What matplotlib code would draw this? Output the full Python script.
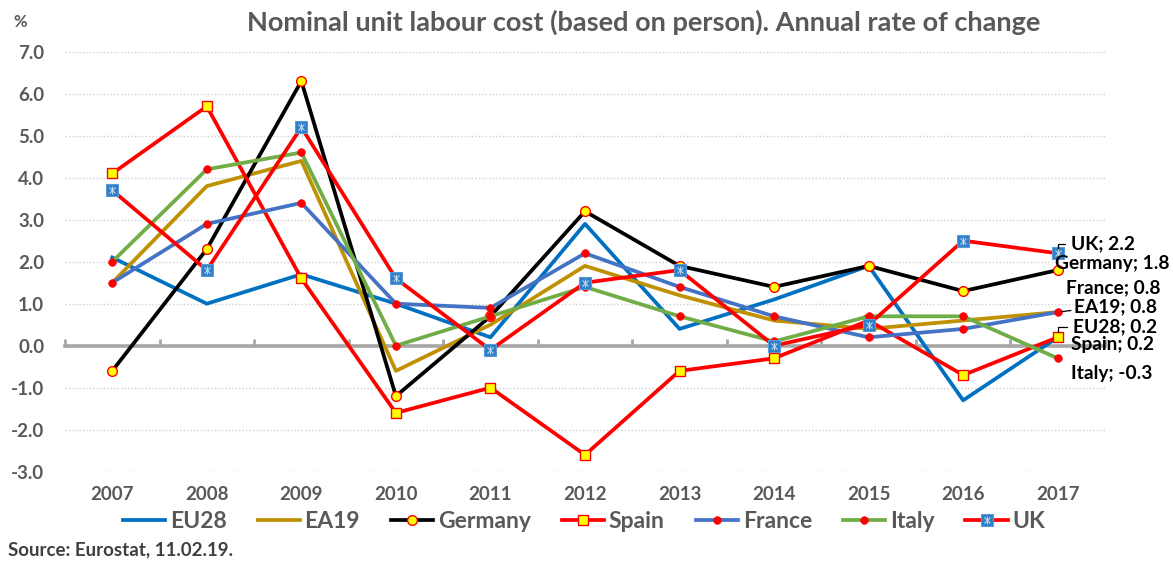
import numpy as np
import matplotlib
matplotlib.use("Agg")
import matplotlib.pyplot as plt
from matplotlib.legend_handler import HandlerTuple

plt.rcParams['font.family'] = ['Lato', 'DejaVu Sans']

years = ['2007', '2008', '2009', '2010', '2011', '2012', '2013', '2014', '2015', '2016', '2017']
eu28 = [2.1, 1.0, 1.7, 1.0, 0.2, 2.9, 0.4, 1.1, 1.9, -1.3, 0.2]
ea19 = [1.5, 3.8, 4.4, -0.6, 0.5, 1.9, 1.2, 0.6, 0.4, 0.6, 0.8]
germany = [-0.6, 2.3, 6.3, -1.2, 0.7, 3.2, 1.9, 1.4, 1.9, 1.3, 1.8]
spain = [4.1, 5.7, 1.6, -1.6, -1.0, -2.6, -0.6, -0.3, 0.6, -0.7, 0.2]
france = [1.5, 2.9, 3.4, 1.0, 0.9, 2.2, 1.4, 0.7, 0.2, 0.4, 0.8]
italy = [2.0, 4.2, 4.6, 0.0, 0.7, 1.4, 0.7, 0.1, 0.7, 0.7, -0.3]
uk = [3.7, 1.8, 5.2, 1.6, -0.1, 1.5, 1.8, 0.0, 0.5, 2.5, 2.2]

title = "Nominal unit labour cost (based on person). Annual rate of change"
source = "Source: Eurostat, 11.02.19."

W, H = 1173, 563
fig = plt.figure(figsize=(W / 100, H / 100), dpi=100)
ax = fig.add_axes([65 / W, 1 - 471.7 / H, 1040 / W, 420 / H])

x = np.arange(len(years))
grey = '#595959'
lw = 2.7

l_eu, = ax.plot(x, eu28, color='#0070C0', lw=lw, zorder=3, label='EU28')
l_ea, = ax.plot(x, ea19, color='#BF9000', lw=lw, zorder=3, label='EA19')
l_de, = ax.plot(x, germany, color='black', lw=lw, zorder=3, marker='o', ms=7,
                mfc='#FFFF00', mec='#FF0000', mew=1.0, label='Germany')
l_es, = ax.plot(x, spain, color='#FF0000', lw=lw, zorder=3, marker='s', ms=7,
                mfc='#FFFF00', mec='#FF0000', mew=1.0, label='Spain')
l_fr, = ax.plot(x, france, color='#4472C4', lw=lw, zorder=3, marker='o', ms=5.5,
                mfc='#FF0000', mec='#FF0000', mew=0.5, label='France')
l_it, = ax.plot(x, italy, color='#70AD47', lw=lw, zorder=3, marker='o', ms=5.5,
                mfc='#FF0000', mec='#FF0000', mew=0.5, label='Italy')
l_uk, = ax.plot(x, uk, color='#FF0000', lw=lw, zorder=3, marker='s', ms=8,
                mfc='#2F7EC7', mec='#5B9BD5', mew=0.8, label='UK')
l_uk2, = ax.plot(x, uk, lw=0, zorder=3.1, marker='x', ms=5, mec='#BDD7EE', mew=0.8)
l_uk3, = ax.plot(x, uk, lw=0, zorder=3.1, marker='|', ms=6, mec='#BDD7EE', mew=0.8)

ax.set_xlim(-0.5, 10.5)
ax.set_ylim(-3, 7)
for s in ['top', 'right', 'left']:
    ax.spines[s].set_visible(False)
ax.spines['bottom'].set_position(('data', 0))
ax.spines['bottom'].set_color('#A6A6A6')
ax.spines['bottom'].set_linewidth(2.6)
ax.spines['bottom'].set_zorder(2.5)

bounds = np.arange(-0.5, len(years), 1.0)
ax.set_xticks(bounds)
ax.set_xticklabels([''] * len(bounds))
ax.tick_params(axis='x', direction='in', length=5, width=2, color='#A6A6A6')

sec = ax.secondary_xaxis('bottom')
sec.set_xticks(x)
sec.set_xticklabels(years)
sec.tick_params(length=0, pad=10, labelsize=13.5, labelcolor=grey)
for lab in sec.get_xticklabels():
    lab.set_fontweight('bold')
sec.spines['bottom'].set_visible(False)

yt = np.arange(-3, 8)
ax.set_yticks(yt)
ax.set_yticklabels([f"{v:.1f}" for v in yt], fontsize=13.5, fontweight='bold', color=grey)
ax.tick_params(axis='y', length=0, pad=15)
ax.yaxis.grid(True, linestyle=(0, (1, 1.5)), color='#D0D0D0', lw=1.0)
ax.set_axisbelow(True)

# data labels at the last point
px = 72 / 100
labels = [
    ("UK; 2.2", uk, 13, 9.5, 'angle'),
    ("Germany; 1.8", germany, -3, 6.4, None),
    ("France; 0.8", france, 8, 24.4, None),
    ("EA19; 0.8", ea19, 16, 5.4, 'through'),
    ("EU28; 0.2", eu28, 15, 10.6, 'angle'),
    ("Spain; 0.2", spain, 13, -7.4, None),
    ("Italy; -0.3", italy, 13, -15.4, None),
]
for txt, series, dx, dy, lead in labels:
    kw = {}
    if lead == 'angle':
        kw['arrowprops'] = dict(arrowstyle='-', color='black', lw=0.9, shrinkA=2, shrinkB=4,
                                connectionstyle='angle,angleA=0,angleB=90,rad=0')
    elif lead == 'through':
        kw['arrowprops'] = dict(arrowstyle='-', color='black', lw=0.9, shrinkA=0, shrinkB=3,
                                relpos=(0.35, 0.5))
    ax.annotate(txt, xy=(x[-1], series[-1]), xytext=(dx * px, dy * px),
                textcoords='offset points', ha='left', va='center',
                fontsize=13.8, fontweight='bold', color='black', zorder=5,
                annotation_clip=False, **kw)

fig.text(644 / W, 1 - 22 / H, title, ha='center', va='center', fontsize=19.5,
         fontweight='bold', color=grey)
fig.text(20 / W, 1 - 22 / H, '%', ha='center', va='center', fontsize=12,
         fontweight='bold', color=grey)
fig.text(8 / W, 1 - 550 / H, source, ha='left', va='center', fontsize=13.5,
         fontweight='bold', color='#404040')

handles = [l_eu, l_ea, l_de, l_es, l_fr, l_it, (l_uk, l_uk2, l_uk3)]
names = ['EU28', 'EA19', 'Germany', 'Spain', 'France', 'Italy', 'UK']
leg = fig.legend(handles, names, loc='center', bbox_to_anchor=(584 / W, 1 - 522 / H),
                 ncol=7, frameon=False, fontsize=16.5, handlelength=1.85, handletextpad=0.2,
                 columnspacing=1.35, numpoints=1,
                 handler_map={tuple: HandlerTuple(ndivide=1, pad=0)})
for t in leg.get_texts():
    t.set_color(grey)
    t.set_fontweight('bold')

fig.savefig('out.png', dpi=100)
